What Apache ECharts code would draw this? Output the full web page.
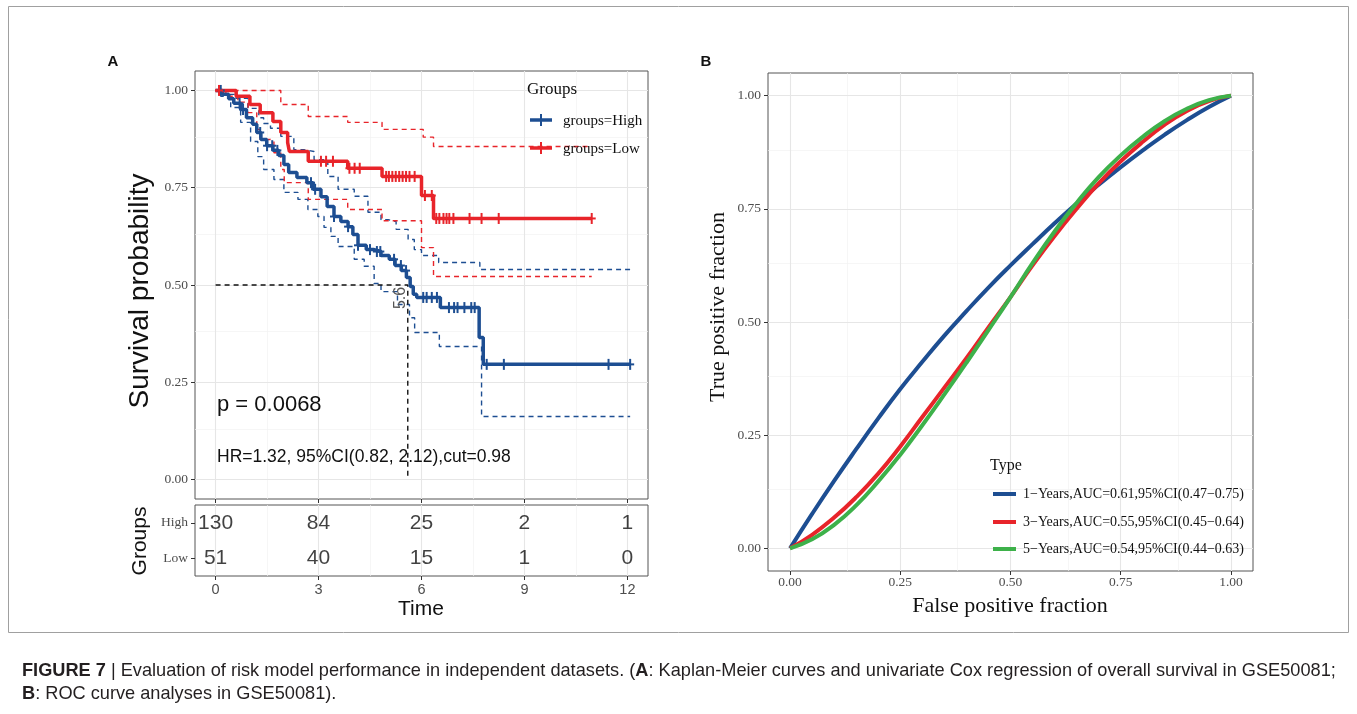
<!DOCTYPE html>
<html><head><meta charset="utf-8">
<script src="https://cdn.jsdelivr.net/npm/echarts@6/dist/echarts.min.js"></script>
<style>html,body{margin:0;padding:0;background:#fff}#c{width:1357px;height:714px}</style>
</head><body><div id="c"></div>
<script>
// ---------------- DATA ----------------
const timeTicks = [0, 3, 6, 9, 12];
const timeMinor = [1.5, 4.5, 7.5, 10.5];
const survTicks = [0, 0.25, 0.5, 0.75, 1];
const survMinor = [0.125, 0.375, 0.625, 0.875];
const riskGroups = ['Low', 'High'];
const riskHigh = [130, 84, 25, 2, 1];
const riskLow = [51, 40, 15, 1, 0];

const highTime = [0, 0.2, 0.38, 0.53, 0.73, 0.9, 1.08, 1.2, 1.32, 1.49, 1.67, 1.84, 1.99, 2.13, 2.37, 2.66, 2.84, 3.07, 3.25, 3.45, 3.65, 3.86, 4.0, 4.15, 4.39, 4.62, 4.82, 5.06, 5.23, 5.41, 5.56, 5.67, 5.76, 5.86, 6.55, 7.68, 7.8, 12.08];
const highSurv = [1.0, 0.99, 0.979, 0.967, 0.951, 0.93, 0.913, 0.892, 0.874, 0.858, 0.846, 0.833, 0.81, 0.789, 0.776, 0.763, 0.746, 0.727, 0.702, 0.676, 0.663, 0.65, 0.63, 0.602, 0.591, 0.586, 0.576, 0.566, 0.55, 0.537, 0.519, 0.496, 0.476, 0.468, 0.442, 0.365, 0.296, 0.296];
const highCensor = [0.15, 0.7, 0.8, 1.3, 1.5, 1.65, 1.8, 2.78, 2.9, 3.45, 3.86, 4.15, 4.5, 4.7, 4.8, 5.2, 5.4, 5.55, 6.05, 6.15, 6.3, 6.45, 6.8, 6.95, 7.05, 7.25, 7.45, 7.55, 7.9, 8.4, 11.45, 12.08];
const highUpTime = [0, 0.23, 0.59, 0.94, 1.26, 1.4, 1.6, 1.9, 2.28, 2.57, 2.87, 3.27, 3.57, 4.04, 4.44, 4.82, 5.03, 5.26, 5.61, 5.79, 6.0, 6.5, 7.7, 12.08];
const highUpSurv = [1.0, 0.99, 0.98, 0.954, 0.93, 0.915, 0.903, 0.882, 0.848, 0.843, 0.822, 0.779, 0.746, 0.728, 0.687, 0.668, 0.663, 0.643, 0.617, 0.591, 0.576, 0.558, 0.54, 0.54];
const highLoTime = [0, 0.15, 0.44, 0.73, 1.02, 1.23, 1.4, 1.7, 1.99, 2.4, 2.69, 2.98, 3.16, 3.36, 3.57, 4.04, 4.33, 4.62, 4.82, 5.3, 5.65, 5.8, 6.52, 7.75, 12.08];
const highLoSurv = [1.0, 0.985, 0.956, 0.918, 0.869, 0.83, 0.797, 0.771, 0.738, 0.72, 0.694, 0.676, 0.648, 0.625, 0.599, 0.566, 0.548, 0.504, 0.483, 0.45, 0.416, 0.378, 0.342, 0.162, 0.162];

const lowTime = [0, 0.6, 1.0, 1.3, 1.67, 1.9, 2.1, 2.15, 2.7, 3.85, 4.85, 6.0, 6.35, 10.96];
const lowSurv = [1.0, 0.985, 0.964, 0.943, 0.92, 0.892, 0.866, 0.843, 0.818, 0.80, 0.779, 0.73, 0.671, 0.671];
const lowCensor = [0.1, 3.07, 3.22, 3.42, 3.9, 4.05, 4.2, 4.97, 5.05, 5.15, 5.25, 5.35, 5.45, 5.55, 5.65, 5.8, 6.1, 6.3, 6.43, 6.52, 6.64, 6.73, 6.81, 6.93, 7.4, 7.75, 8.25, 10.96];
const lowUpTime = [0, 1.9, 2.7, 3.85, 4.85, 6.05, 6.35, 10.96];
const lowUpSurv = [1.0, 0.964, 0.933, 0.918, 0.90, 0.88, 0.856, 0.856];
const lowLoTime = [0, 0.3, 0.65, 0.95, 1.2, 1.3, 1.6, 1.7, 1.9, 2.0, 2.7, 3.85, 4.85, 6.0, 6.35, 10.96];
const lowLoSurv = [1.0, 0.985, 0.97, 0.943, 0.9, 0.874, 0.869, 0.84, 0.797, 0.763, 0.72, 0.694, 0.665, 0.596, 0.522, 0.522];

const medianTime = 5.6;
const medianSurv = 0.5;

const rocTicks = [0, 0.25, 0.5, 0.75, 1];
const rocMinor = [0.125, 0.375, 0.625, 0.875];
const rocFpr = [0, 0.05, 0.1, 0.15, 0.2, 0.25, 0.3, 0.35, 0.4, 0.45, 0.5, 0.55, 0.6, 0.65, 0.7, 0.75, 0.8, 0.85, 0.9, 0.95, 1];
const roc1 = [0, 0.076, 0.149, 0.219, 0.287, 0.352, 0.412, 0.47, 0.524, 0.576, 0.625, 0.672, 0.718, 0.762, 0.803, 0.842, 0.879, 0.914, 0.946, 0.975, 1];
const roc3 = [0, 0.03, 0.068, 0.113, 0.165, 0.225, 0.29, 0.355, 0.42, 0.488, 0.555, 0.625, 0.69, 0.75, 0.806, 0.855, 0.898, 0.936, 0.966, 0.988, 1];
const roc5 = [0, 0.02, 0.052, 0.095, 0.148, 0.207, 0.272, 0.34, 0.41, 0.482, 0.555, 0.63, 0.7, 0.763, 0.82, 0.868, 0.909, 0.944, 0.971, 0.99, 1];
const rocNames = ['1\u2212Years,AUC=0.61,95%CI(0.47\u22120.75)', '3\u2212Years,AUC=0.55,95%CI(0.45\u22120.64)', '5\u2212Years,AUC=0.54,95%CI(0.44\u22120.63)'];

// ---------------- STYLE ----------------
const BLUE = '#1d4e92', RED = '#e8242a', GREEN = '#3db14a';
const SERIF = '"Liberation Serif", "DejaVu Serif", serif';
const SANS = '"Liberation Sans", Arial, sans-serif';
const GRAY = '#4d4d4d';

const pairs = (t, s) => t.map((v, i) => [v, s[i]]);
function survAt(t, s, x) { let v = s[0]; for (let i = 0; i < t.length; i++) { if (t[i] <= x + 1e-9) v = s[i]; } return v; }

function gridLines(idx, xMaj, xMin, yMaj, yMin) {
  const maj = { color: '#e6e6e6', width: 1.1, type: 'solid' };
  const mnr = { color: '#f2f2f2', width: 0.7, type: 'solid' };
  const d = [];
  xMin.forEach(v => d.push({ xAxis: v, lineStyle: mnr }));
  yMin.forEach(v => d.push({ yAxis: v, lineStyle: mnr }));
  xMaj.forEach(v => d.push({ xAxis: v, lineStyle: maj }));
  yMaj.forEach(v => d.push({ yAxis: v, lineStyle: maj }));
  return { type: 'line', xAxisIndex: idx, yAxisIndex: idx, data: [], z: 0, silent: true,
    markLine: { z: 0, zlevel: 0, silent: true, symbol: ['none', 'none'], label: { show: false }, animation: false, data: d } };
}

function kmLine(t, s, color, width, dashed, z) {
  return { type: 'line', xAxisIndex: 0, yAxisIndex: 0, step: 'end', showSymbol: false, symbol: 'none', z: z,
    data: pairs(t, s), lineStyle: { color: color, width: width, type: dashed ? [5, 4] : 'solid' } };
}

function censorSeries(times, t, s, color) {
  return { type: 'custom', xAxisIndex: 0, yAxisIndex: 0, z: 12,
    data: times.map(x => [x, survAt(t, s, x)]),
    renderItem: function (params, api) {
      const p = api.coord([api.value(0), api.value(1)]);
      return { type: 'group', children: [
        { type: 'line', shape: { x1: p[0], y1: p[1] - 5.5, x2: p[0], y2: p[1] + 5.5 }, style: { stroke: color, lineWidth: 2 } },
        { type: 'line', shape: { x1: p[0] - 4, y1: p[1], x2: p[0] + 4, y2: p[1] }, style: { stroke: color, lineWidth: 2 } }
      ] };
    } };
}

function riskSeries(vals, grp) {
  return { type: 'scatter', xAxisIndex: 1, yAxisIndex: 1, symbolSize: 1, z: 12,
    itemStyle: { color: 'rgba(0,0,0,0)' },
    data: vals.map((v, i) => [timeTicks[i], grp, v]),
    label: { show: true, position: 'inside', formatter: p => String(p.data[2]), color: '#111', fontFamily: SANS, fontSize: 21 } };
}

function rocLine(vals, color, z) {
  return { type: 'line', xAxisIndex: 2, yAxisIndex: 2, smooth: true, showSymbol: false, symbol: 'none', z: z,
    data: rocFpr.map((f, i) => [f, vals[i]]), lineStyle: { color: color, width: 4 } };
}

const tickStyle = { color: '#333', width: 1 };
function valAxis(idx, min, max, ticks, labelOpts, showLabel) {
  return { type: 'value', gridIndex: idx, min: min, max: max,
    axisLine: { show: false, onZero: false }, splitLine: { show: false },
    axisTick: { show: true, customValues: ticks, length: 4, lineStyle: tickStyle },
    axisLabel: Object.assign({ show: showLabel, customValues: ticks }, labelOpts) };
}

const chart = echarts.init(document.getElementById('c'), null, { renderer: 'canvas' });

const option = {
  animation: false,
  backgroundColor: '#fff',
  grid: [
    { left: 195, top: 71, width: 453, height: 428, show: true, borderColor: '#555', borderWidth: 1, backgroundColor: '#fff' },
    { left: 195, top: 505, width: 453, height: 71, show: true, borderColor: '#555', borderWidth: 1, backgroundColor: '#fff' },
    { left: 768, top: 73, width: 485, height: 498, show: true, borderColor: '#555', borderWidth: 1, backgroundColor: '#fff' }
  ],
  xAxis: [
    Object.assign(valAxis(0, -0.6, 12.6, timeTicks, {}, false), { position: 'bottom' }),
    Object.assign(valAxis(1, -0.6, 12.6, timeTicks, { color: GRAY, fontFamily: SANS, fontSize: 14.5, margin: 6 }, true), { position: 'bottom' }),
    Object.assign(valAxis(2, -0.05, 1.05, rocTicks, { color: GRAY, fontFamily: SERIF, fontSize: 13.5, margin: 4, formatter: v => v.toFixed(2) }, true), { position: 'bottom' })
  ],
  yAxis: [
    Object.assign(valAxis(0, -0.05, 1.05, survTicks, { color: GRAY, fontFamily: SERIF, fontSize: 13.5, margin: 7, formatter: v => v.toFixed(2) }, true), { position: 'left' }),
    { type: 'category', gridIndex: 1, position: 'left', data: riskGroups, axisLine: { show: false, onZero: false }, splitLine: { show: false },
      axisTick: { show: true, alignWithLabel: true, length: 4, lineStyle: tickStyle },
      axisLabel: { color: GRAY, fontFamily: SERIF, fontSize: 13.5, margin: 7 } },
    Object.assign(valAxis(2, -0.05, 1.05, rocTicks, { color: GRAY, fontFamily: SERIF, fontSize: 13.5, margin: 7, formatter: v => v.toFixed(2) }, true), { position: 'left' })
  ],
  series: [
    gridLines(0, timeTicks, timeMinor, survTicks, survMinor),
    gridLines(1, timeTicks, timeMinor, [], []),
    gridLines(2, rocTicks, rocMinor, rocTicks, rocMinor),
    // CI dashed
    kmLine(highUpTime, highUpSurv, BLUE, 1.4, true, 7),
    kmLine(highLoTime, highLoSurv, BLUE, 1.4, true, 7),
    kmLine(lowUpTime, lowUpSurv, RED, 1.4, true, 7),
    kmLine(lowLoTime, lowLoSurv, RED, 1.4, true, 7),
    // median line
    { type: 'line', xAxisIndex: 0, yAxisIndex: 0, showSymbol: false, symbol: 'none', z: 8,
      data: [[0, medianSurv], [medianTime, medianSurv], [medianTime, 0]], lineStyle: { color: '#111', width: 1.4, type: [5, 4] } },
    // KM curves
    kmLine(highTime, highSurv, BLUE, 3.5, false, 10),
    kmLine(lowTime, lowSurv, RED, 3.5, false, 10),
    censorSeries(highCensor, highTime, highSurv, BLUE),
    censorSeries(lowCensor, lowTime, lowSurv, RED),
    // risk table
    riskSeries(riskHigh, 'High'),
    riskSeries(riskLow, 'Low'),
    // ROC
    rocLine(roc1, BLUE, 10),
    rocLine(roc3, RED, 11),
    rocLine(roc5, GREEN, 12)
  ]
};
chart.setOption(option);

// ---------------- TEXT / ANNOTATIONS ----------------
const medPix = chart.convertToPixel({ gridIndex: 0 }, [medianTime, medianSurv]);
function txt(x, y, text, font, fill, align, vAlign, rot) {
  return { type: 'text', x: x, y: y, rotation: rot || 0, z: 20,
    style: { text: text, font: font, fill: fill || '#000', align: align || 'left', verticalAlign: vAlign || 'middle' } };
}
function keyLine(x1, x2, y, color, w) {
  return { type: 'line', z: 20, shape: { x1: x1, y1: y, x2: x2, y2: y }, style: { stroke: color, lineWidth: w } };
}
const graphics = [
  { type: 'rect', z: 1, shape: { x: 8.5, y: 6.5, width: 1340, height: 626 }, style: { fill: 'none', stroke: '#a0a0a0', lineWidth: 1 } },
  txt(113, 62, 'A', 'bold 15px ' + SANS, '#111', 'center'),
  txt(706, 62, 'B', 'bold 15px ' + SANS, '#111', 'center'),
  txt(140, 291, 'Survival probability', '28px ' + SANS, '#111', 'center', 'middle', Math.PI / 2),
  txt(140, 541, 'Groups', '21px ' + SANS, '#111', 'center', 'middle', Math.PI / 2),
  txt(421, 609, 'Time', '21px ' + SANS, '#111', 'center'),
  txt(217, 405, 'p = 0.0068', '22px ' + SANS, '#111', 'left'),
  txt(217, 457, 'HR=1.32, 95%CI(0.82, 2.12),cut=0.98', '17.5px ' + SANS, '#111', 'left'),
  txt(medPix[0] - 7, medPix[1] + 13, String(medianTime), '16px ' + SANS, '#555', 'center', 'middle', Math.PI / 2),
  // legend A
  txt(527, 90, 'Groups', '17px ' + SERIF, '#111', 'left'),
  keyLine(530, 552, 120, BLUE, 3.5), { type: 'line', z: 20, shape: { x1: 541, y1: 114, x2: 541, y2: 126 }, style: { stroke: BLUE, lineWidth: 2 } },
  txt(563, 121, 'groups=High', '15px ' + SERIF, '#111', 'left'),
  keyLine(530, 552, 148, RED, 3.5), { type: 'line', z: 20, shape: { x1: 541, y1: 142, x2: 541, y2: 154 }, style: { stroke: RED, lineWidth: 2 } },
  txt(563, 149, 'groups=Low', '15px ' + SERIF, '#111', 'left'),
  // ROC axis titles
  txt(1010, 606, 'False positive fraction', '22px ' + SERIF, '#111', 'center'),
  txt(718, 307, 'True positive fraction', '22px ' + SERIF, '#111', 'center', 'middle', Math.PI / 2),
  // legend B
  txt(990, 466, 'Type', '16px ' + SERIF, '#111', 'left'),
  keyLine(993, 1016, 494, BLUE, 4), txt(1023, 494, rocNames[0], '14px ' + SERIF, '#111', 'left'),
  keyLine(993, 1016, 522, RED, 4), txt(1023, 522, rocNames[1], '14px ' + SERIF, '#111', 'left'),
  keyLine(993, 1016, 549, GREEN, 4), txt(1023, 549, rocNames[2], '14px ' + SERIF, '#111', 'left'),
  // caption
  { type: 'text', x: 22, y: 671, z: 20, style: { text: '{b|FIGURE 7} | Evaluation of risk model performance in independent datasets. ({b|A}: Kaplan-Meier curves and univariate Cox regression of overall survival in GSE50081;',
      font: '18.2px ' + SANS, fill: '#231f20', verticalAlign: 'middle', rich: { b: { fontWeight: 'bold', fontSize: 18.2, fontFamily: SANS, fill: '#231f20' } } } },
  { type: 'text', x: 22, y: 694, z: 20, style: { text: '{b|B}: ROC curve analyses in GSE50081).',
      font: '18.2px ' + SANS, fill: '#231f20', verticalAlign: 'middle', rich: { b: { fontWeight: 'bold', fontSize: 18.2, fontFamily: SANS, fill: '#231f20' } } } }
];
chart.setOption({ graphic: graphics });
</script>
</body></html>
